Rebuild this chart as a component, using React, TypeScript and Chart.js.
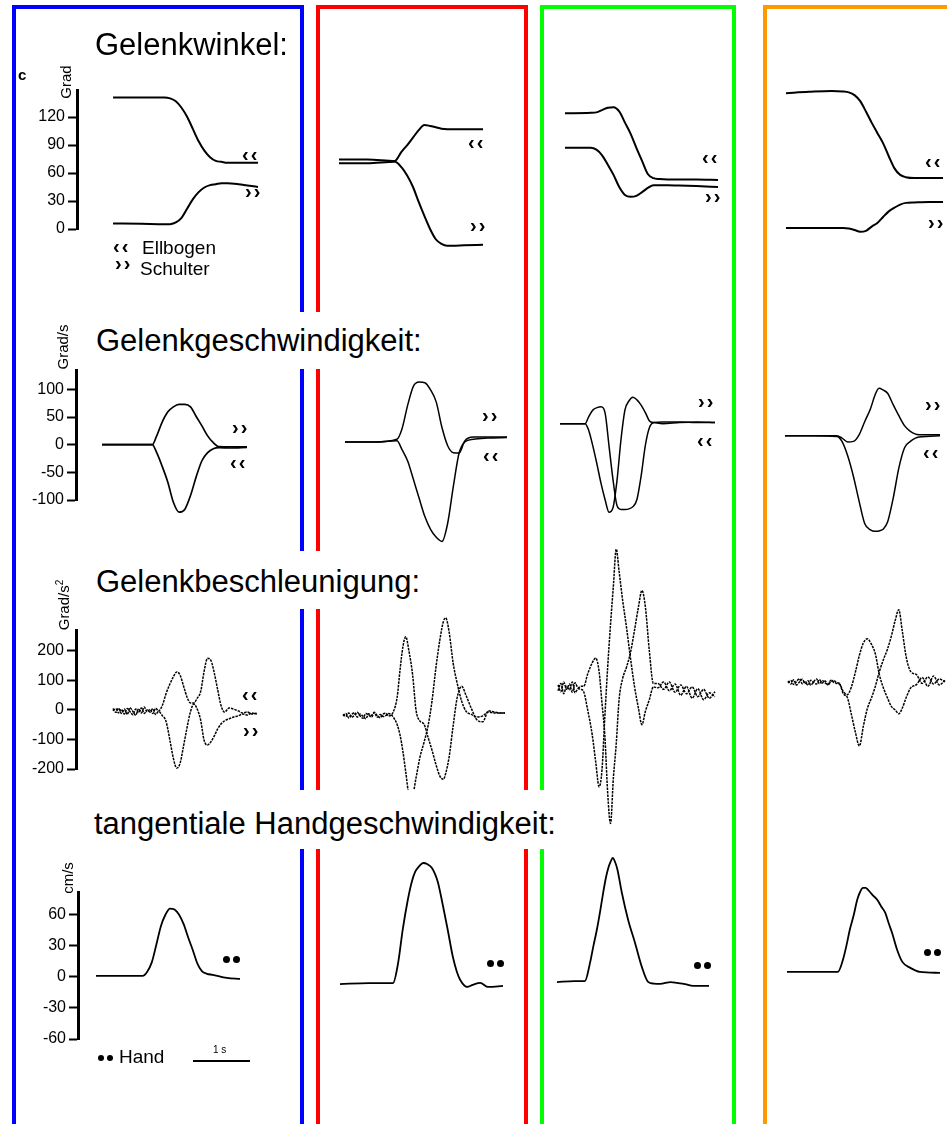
import React, { useEffect, useRef } from 'react';
import { Chart, registerables } from 'chart.js';

Chart.register(...registerables);

const FONT = '"Liberation Sans", Arial, Helvetica, sans-serif';

// ---------- tick labels ----------
const ANGLE_TICKS = [0, 30, 60, 90, 120];
const VEL_TICKS = [-100, -50, 0, 50, 100];
const ACC_TICKS = [-200, -100, 0, 100, 200];
const HAND_TICKS = [-60, -30, 0, 30, 60];

// ---------- row 1: Gelenkwinkel (Grad), time in s ----------
const R1C1_T = [0, 0.5, 0.9, 1.0, 1.1, 1.2, 1.3, 1.4, 1.5, 1.6, 1.7, 1.8, 1.9, 2.0, 2.2, 2.54];
const R1C1_ELBOW = [141, 141, 141, 140, 137, 130, 120, 107, 94, 84, 77, 73, 72, 71, 71, 71];
const R1C1_SHOULDER = [6, 5.5, 5, 5.2, 7, 12, 22, 32, 39.5, 44.5, 47, 48, 49, 49, 48, 45];

const R1C2_T = [0, 0.5, 0.98, 1.1, 1.2, 1.3, 1.4, 1.5, 1.6, 1.7, 1.8, 1.9, 2.0, 2.2, 2.53];
const R1C2_ELBOW = [74.5, 74.5, 73, 83, 90, 98, 106, 111.5, 110.5, 109, 107.5, 107, 107, 107, 107];
const R1C2_SHOULDER = [70.5, 70.5, 72, 66, 57, 45, 29, 14, 0, -11, -16, -18, -18, -17.5, -17];

const R1C3_T = [0, 0.45, 0.55, 0.65, 0.75, 0.85, 0.95, 1.05, 1.15, 1.25, 1.35, 1.45, 1.55, 1.65, 1.8, 2.0, 2.3, 2.68];
const R1C3_ELBOW = [124, 124.5, 125, 127.5, 130, 130.5, 126, 114, 102, 87, 73, 59, 54.5, 53.5, 53, 53, 53, 52.5];
const R1C3_SHOULDER = [87, 87, 85, 79, 69, 58, 45, 36.5, 34.5, 35.5, 39.5, 44, 47, 47, 47, 46.5, 46, 45];

const R1C4_T = [0, 0.4, 0.8, 1.0, 1.1, 1.2, 1.3, 1.4, 1.5, 1.6, 1.7, 1.8, 1.9, 2.0, 2.1, 2.25, 2.5, 2.75];
const R1C4_ELBOW = [145.5, 147, 148, 147.5, 146.5, 143.5, 137, 126, 114, 103, 92, 78, 65, 58, 55.5, 54.6, 54.6, 54.6];
const R1C4_SHOULDER = [1, 1, 1, 1, 0.5, -1, -3, -2, 2.6, 6.4, 12.9, 18.9, 22.9, 26.2, 28, 28.5, 29, 29];

// ---------- row 2: Gelenkgeschwindigkeit (Grad/s) ----------
const R2C1_T = [0, 0.5, 0.88, 0.95, 1.05, 1.15, 1.25, 1.35, 1.45, 1.55, 1.65, 1.75, 1.85, 1.95, 2.05, 2.25, 2.54];
const R2C1_SHOULDER = [0, 0, 0, 14, 40, 59, 68.5, 73, 73, 68.5, 51, 34, 16, 3.6, -3.6, -4, -4];
const R2C1_ELBOW = [0, 0, 0, -12.6, -38, -67, -104, -122, -117, -92, -58, -29, -14.4, -7.2, -5.4, -6, -5];

const R2C2_T = [0, 0.5, 0.91, 1.0, 1.1, 1.2, 1.3, 1.4, 1.5, 1.6, 1.7, 1.8, 1.9, 2.0, 2.1, 2.25, 2.5, 2.84];
const R2C2_SHOULDER = [5, 5, 10, 29, 72, 106, 113.5, 112, 99, 77, 31, -1.8, -14.4, -15, 7, 14, 14, 14];
const R2C2_ELBOW = [5, 5, 7, -9, -30, -63, -97, -130, -153, -167.5, -175, -142, -75, -15, 5, 10, 12, 13];

const R2C3_T = [0, 0.44, 0.5, 0.58, 0.65, 0.72, 0.79, 0.86, 0.93, 1.0, 1.07, 1.14, 1.21, 1.28, 1.35, 1.42, 1.5, 1.57, 1.65, 1.8, 2.1, 2.4, 2.72];
const R2C3_SHOULDER = [38, 38, 50, 63, 67, 68.5, 58, -2, -63, -110, -117, -117, -116, -112, -99, -59, 0, 31, 40, 41, 41, 40, 40];
const R2C3_ELBOW = [38, 38, 27, -4, -36, -70, -99, -122, -114, -65, 9, 63, 79, 85.6, 81, 72, 57.7, 43, 40, 38, 40, 41, 40];

const R2C4_T = [0, 0.5, 0.91, 1.0, 1.1, 1.2, 1.3, 1.4, 1.5, 1.58, 1.65, 1.72, 1.8, 1.9, 2.0, 2.1, 2.2, 2.35, 2.72];
const R2C4_SHOULDER = [16, 16, 16, 12, 5, 6, 18, 42, 65, 90, 102, 99, 93, 72, 52, 34, 24, 18, 18];
const R2C4_ELBOW = [16, 16, 15, 6, -20, -57, -102, -143, -154, -156.5, -156, -153, -140, -96, -41, -5, 6, 14, 16];

// ---------- row 3: Gelenkbeschleunigung (Grad/s^2) ----------
const R3C1_T = [0, 0.05, 0.1, 0.15, 0.2, 0.25, 0.3, 0.35, 0.4, 0.45, 0.5, 0.55, 0.6, 0.65, 0.7, 0.75, 0.8,
  0.87, 0.93, 1.0, 1.06, 1.12, 1.18, 1.24, 1.3, 1.36, 1.42, 1.48, 1.54, 1.6, 1.66, 1.72, 1.78, 1.84, 1.9, 1.96, 2.04, 2.12, 2.2, 2.28, 2.36, 2.44, 2.53];
const R3C1_ELBOW = [5, -8, 6, -12, 3, -15, 8, -5, -18, 4, -10, 10, -6, 2, -12, 6, -3,
  17, 54, 88, 112, 129, 118, 81, 44, 24, 24, 40, 62, 130, 175, 168, 125, 68, 14, -7, 7, 3, -3, -10, -7, -14, -10];
const R3C1_SHOULDER = [-3, 4, -10, 2, -14, 5, -6, -16, 3, -9, 7, -12, 0, -7, 4, -15, -5,
  -20, -37, -102, -163, -197, -180, -122, -61, -7, 20, 3, -34, -102, -119, -108, -88, -64, -47, -37, -30, -24, -20, -14, -17, -10, -14];

const R3C2_T = [0, 0.05, 0.1, 0.15, 0.2, 0.25, 0.3, 0.35, 0.4, 0.45, 0.5, 0.55, 0.6, 0.65, 0.7, 0.75, 0.8,
  0.88, 0.95, 1.0, 1.05, 1.1, 1.16, 1.22, 1.28, 1.35, 1.42, 1.49, 1.56, 1.63, 1.7, 1.76, 1.8, 1.86, 1.93, 2.0, 2.08, 2.16, 2.25, 2.35, 2.45, 2.55, 2.65, 2.75, 2.84];
const R3C2_ELBOW = [-15, -22, -10, -25, -18, -8, -20, -28, -12, -17, -24, -9, -19, -26, -14, -11, -20,
  -7, 44, 136, 214, 248, 195, 120, 0, -38, -48, -92, -136, -185, -225, -235, -215, -160, -55, 40, 80, 48, 5, -34, -40, -3, -7, -10, -10];
const R3C2_SHOULDER = [-20, -12, -27, -16, -9, -24, -14, -21, -30, -13, -18, -8, -25, -15, -22, -19, -12,
  -24, -50, -85, -140, -210, -285, -285, -230, -159, -110, -55, 30, 145, 240, 300, 312, 265, 160, 92, 30, -5, -15, -24, -20, -7, -10, -10, -10];

const R3C3_T = [0, 0.05, 0.1, 0.15, 0.2, 0.25, 0.3, 0.35, 0.4,
  0.45, 0.52, 0.6, 0.66, 0.72, 0.77, 0.82, 0.87, 0.92, 0.97, 1.02, 1.07, 1.13, 1.2, 1.27, 1.34, 1.41, 1.47, 1.53, 1.6, 1.67,
  1.75, 1.85, 1.95, 2.05, 2.15, 2.25, 2.35, 2.45, 2.55, 2.65, 2.75];
const R3C3_SHOULDER = [85, 62, 95, 70, 88, 60, 92, 75, 80,
  80, 122, 160, 176, 130, 24, -85, -280, -385, -230, -115, 35, 105, 145, 195, 270, 350, 405, 350, 200, 90,
  90, 70, 95, 60, 85, 55, 78, 45, 70, 40, 62];
const R3C3_ELBOW = [65, 90, 55, 80, 68, 95, 58, 72, 70,
  62, 0, -85, -175, -260, -205, -24, 145, 290, 420, 545, 470, 375, 280, 175, 80, 5, -50, -5, 35, 78,
  75, 95, 65, 88, 50, 80, 40, 72, 35, 58, 45];

const R3C4_T = [0, 0.05, 0.1, 0.15, 0.2, 0.25, 0.3, 0.35, 0.4, 0.45, 0.5, 0.55, 0.6, 0.65, 0.7, 0.75, 0.8, 0.85,
  0.9, 0.97, 1.04, 1.11, 1.18, 1.25, 1.32, 1.39, 1.46, 1.53, 1.6, 1.67, 1.74, 1.81, 1.88, 1.94, 2.0, 2.07, 2.15, 2.25, 2.35, 2.45, 2.55, 2.65, 2.75];
const R3C4_ELBOW = [98, 88, 102, 85, 95, 104, 90, 99, 84, 96, 105, 89, 100, 92, 86, 101, 94, 90,
  88, 62, 52, 78, 128, 185, 227, 241, 223, 190, 120, 75, 42, 12, 0, -13, 5, 42, 75, 86, 110, 80, 115, 85, 100];
const R3C4_SHOULDER = [92, 100, 86, 97, 106, 89, 95, 84, 101, 93, 88, 103, 91, 98, 85, 96, 100, 93,
  90, 55, 42, -15, -75, -122, -55, 5, 40, 80, 130, 170, 205, 250, 305, 340, 270, 180, 130, 120, 90, 112, 88, 105, 95];

// ---------- row 4: tangentiale Handgeschwindigkeit (cm/s) ----------
const R4C1_T = [0, 0.4, 0.82, 0.9, 0.98, 1.06, 1.14, 1.22, 1.3, 1.38, 1.46, 1.54, 1.62, 1.7, 1.78, 1.86, 1.95, 2.05, 2.3, 2.53];
const R4C1_HAND = [1, 1, 1, 5, 14, 31, 49, 60, 66, 65, 60, 51, 38, 26, 13, 5.5, 3, 2, -1, -2];

const R4C2_T = [0, 0.5, 0.93, 1.02, 1.1, 1.19, 1.26, 1.32, 1.39, 1.46, 1.53, 1.61, 1.67, 1.72, 1.81, 1.89, 1.98, 2.05, 2.11, 2.23, 2.33, 2.46, 2.6, 2.86];
const R4C2_HAND = [-7, -6, -6, 13.5, 45.5, 74.5, 92, 101.6, 107, 110, 109, 105.5, 99, 91, 67.7, 45.5, 19.4, 5, -3, -9.7, -7.7, -5.8, -9.7, -8.7];

const R4C3_T = [0, 0.3, 0.49, 0.58, 0.64, 0.7, 0.76, 0.81, 0.86, 0.9, 0.94, 0.98, 1.02, 1.06, 1.14, 1.25, 1.37, 1.49, 1.6, 1.7, 1.81, 2.0, 2.11, 2.25, 2.39, 2.67];
const R4C3_HAND = [-5, -4, -4, 13.5, 30, 45.5, 64, 81, 96, 105, 111, 115, 111, 104, 81, 55, 33, 9.7, -4.8, -6.5, -6.8, -5, -5.8, -7, -8.7, -8.7];

const R4C4_T = [0, 0.5, 0.89, 0.98, 1.04, 1.1, 1.17, 1.23, 1.28, 1.33, 1.38, 1.42, 1.5, 1.58, 1.65, 1.72, 1.78, 1.84, 1.93, 2.02, 2.16, 2.33, 2.68];
const R4C4_HAND = [4.8, 4.8, 4.8, 16.5, 30, 45.5, 60, 74.5, 82, 86, 86, 84, 79, 74.5, 68, 62, 52, 42.6, 26, 14.5, 8.7, 4.8, 3.9];

// ---------- layout ----------
const PX_PER_S = 57;
const PAD = 110;
const AXW = 64;

type Geo = { top: number; bottom: number; min: number; max: number; ticks: number[] };
const ROW1: Geo = { top: 90, bottom: 229, min: 0, max: 149, ticks: ANGLE_TICKS };
const ROW2: Geo = { top: 359, bottom: 500, min: -100, max: 155, ticks: VEL_TICKS };
const ROW3: Geo = { top: 630, bottom: 769, min: -200, max: 271, ticks: ACC_TICKS };
const ROW4: Geo = { top: 892, bottom: 1039, min: -60, max: 82, ticks: HAND_TICKS };

type PanelProps = { geo: Geo; x0: number; axisX?: number; t: number[]; series: number[][]; width: number; dash?: number[] };

const PANELS: PanelProps[] = [
  { geo: ROW1, x0: 113, axisX: 77, t: R1C1_T, series: [R1C1_ELBOW, R1C1_SHOULDER], width: 2 },
  { geo: ROW1, x0: 339, t: R1C2_T, series: [R1C2_ELBOW, R1C2_SHOULDER], width: 2 },
  { geo: ROW1, x0: 565, t: R1C3_T, series: [R1C3_ELBOW, R1C3_SHOULDER], width: 2 },
  { geo: ROW1, x0: 786, t: R1C4_T, series: [R1C4_ELBOW, R1C4_SHOULDER], width: 2 },
  { geo: ROW2, x0: 102, axisX: 76, t: R2C1_T, series: [R2C1_ELBOW, R2C1_SHOULDER], width: 1.7 },
  { geo: ROW2, x0: 345, t: R2C2_T, series: [R2C2_ELBOW, R2C2_SHOULDER], width: 1.5 },
  { geo: ROW2, x0: 560, t: R2C3_T, series: [R2C3_ELBOW, R2C3_SHOULDER], width: 1.5 },
  { geo: ROW2, x0: 785, t: R2C4_T, series: [R2C4_ELBOW, R2C4_SHOULDER], width: 1.5 },
  { geo: ROW3, x0: 113, axisX: 76, t: R3C1_T, series: [R3C1_ELBOW, R3C1_SHOULDER], width: 1.5, dash: [2.5, 1] },
  { geo: ROW3, x0: 343, t: R3C2_T, series: [R3C2_ELBOW, R3C2_SHOULDER], width: 1.5, dash: [2.5, 1] },
  { geo: ROW3, x0: 558, t: R3C3_T, series: [R3C3_ELBOW, R3C3_SHOULDER], width: 1.5, dash: [2.5, 1] },
  { geo: ROW3, x0: 788, t: R3C4_T, series: [R3C4_ELBOW, R3C4_SHOULDER], width: 1.5, dash: [2.5, 1] },
  { geo: ROW4, x0: 96, axisX: 78, t: R4C1_T, series: [R4C1_HAND], width: 1.8 },
  { geo: ROW4, x0: 340, t: R4C2_T, series: [R4C2_HAND], width: 1.8 },
  { geo: ROW4, x0: 557, t: R4C3_T, series: [R4C3_HAND], width: 1.8 },
  { geo: ROW4, x0: 787, t: R4C4_T, series: [R4C4_HAND], width: 1.8 },
];

function Panel({ geo, x0, axisX, t, series, width, dash }: PanelProps) {
  const ref = useRef<HTMLCanvasElement>(null);
  const hasAxis = axisX !== undefined;
  const tEnd = t[t.length - 1];
  const areaLeft = hasAxis ? (axisX as number) : x0;
  const areaRight = x0 + tEnd * PX_PER_S;
  const padL = hasAxis ? AXW : 6;
  const padR = 6;
  const cw = Math.round(padL + (areaRight - areaLeft) + padR);
  const ch = PAD * 2 + (geo.bottom - geo.top);
  const xMin = (areaLeft - x0) / PX_PER_S;

  useEffect(() => {
    const yOpts: any = {
      type: 'linear',
      display: hasAxis,
      min: geo.min,
      max: geo.max,
    };
    if (hasAxis) {
      Object.assign(yOpts, {
        afterFit: (s: any) => { s.width = AXW; },
        afterBuildTicks: (s: any) => { s.ticks = geo.ticks.map((v) => ({ value: v })); },
        border: { display: true, color: '#000', width: 3 },
        grid: { display: true, drawOnChartArea: false, drawTicks: true, tickLength: 9, tickWidth: 2, tickColor: '#000', color: '#000' },
        ticks: { color: '#000', padding: 3, autoSkip: false, font: { family: FONT, size: 16 }, callback: (v: any) => String(v) },
      });
    }
    const chart = new Chart(ref.current as HTMLCanvasElement, {
      type: 'line',
      data: {
        datasets: series.map((s) => ({
          data: t.map((x, i) => ({ x, y: s[i] })),
          borderColor: '#000',
          borderWidth: width,
          borderDash: dash || [],
          pointRadius: 0,
          cubicInterpolationMode: 'monotone' as const,
          fill: false,
          clip: false as any,
        })),
      },
      options: {
        animation: false,
        responsive: false,
        devicePixelRatio: 1,
        events: [],
        layout: { padding: { left: hasAxis ? 0 : padL, right: padR, top: PAD, bottom: PAD } },
        plugins: { legend: { display: false }, tooltip: { enabled: false } },
        scales: {
          x: { type: 'linear', display: false, min: xMin, max: tEnd },
          y: yOpts,
        },
      },
    });
    return () => chart.destroy();
  }, []);

  return (
    <canvas
      ref={ref}
      width={cw}
      height={ch}
      style={{ position: 'absolute', left: areaLeft - padL, top: geo.top - PAD, width: cw, height: ch }}
    />
  );
}

function Txt({ x, y, size, children, bold, ls }: { x: number; y: number; size: number; children: any; bold?: boolean; ls?: number }) {
  return (
    <div style={{ position: 'absolute', left: x, top: y - 0.8465 * size, fontSize: size, lineHeight: 1, whiteSpace: 'nowrap', fontWeight: bold ? 'bold' : 'normal', letterSpacing: ls || 0 }}>
      {children}
    </div>
  );
}

function RotLabel({ cx, cy, size, children }: { cx: number; cy: number; size: number; children: any }) {
  return (
    <div style={{ position: 'absolute', left: cx, top: cy, transform: 'translate(-50%,-50%) rotate(-90deg)', fontSize: size, lineHeight: 1, whiteSpace: 'nowrap' }}>
      {children}
    </div>
  );
}

function Dots({ cx, cy, d, gap }: { cx: number; cy: number; d: number; gap: number }) {
  const w = d * 2 + gap;
  return (
    <div style={{ position: 'absolute', left: cx - w / 2, top: cy - d / 2, width: w, height: d, display: 'flex', gap }}>
      <span style={{ width: d, height: d, borderRadius: '50%', background: '#000', display: 'block' }} />
      <span style={{ width: d, height: d, borderRadius: '50%', background: '#000', display: 'block' }} />
    </div>
  );
}

const BOXES = [
  { color: '#0000ff', left: 12, width: 292 },
  { color: '#ff0000', left: 316, width: 212 },
  { color: '#00ff00', left: 540, width: 196 },
  { color: '#ff9900', left: 763, width: 300 },
];

const ELBOW_MARK = '\u2039\u2039';
const SHOULDER_MARK = '\u203A\u203A';

// chevron labels: left x, vertical centre
const MARKS = [
  { x: 242, y: 155, s: ELBOW_MARK }, { x: 245, y: 192, s: SHOULDER_MARK },
  { x: 468, y: 143, s: ELBOW_MARK }, { x: 470, y: 226, s: SHOULDER_MARK },
  { x: 702, y: 158, s: ELBOW_MARK }, { x: 705, y: 197, s: SHOULDER_MARK },
  { x: 925, y: 162, s: ELBOW_MARK }, { x: 928, y: 223, s: SHOULDER_MARK },
  { x: 232, y: 428, s: SHOULDER_MARK }, { x: 230, y: 463, s: ELBOW_MARK },
  { x: 482, y: 416, s: SHOULDER_MARK }, { x: 483, y: 456, s: ELBOW_MARK },
  { x: 698, y: 402, s: SHOULDER_MARK }, { x: 697, y: 441, s: ELBOW_MARK },
  { x: 925, y: 405, s: SHOULDER_MARK }, { x: 923, y: 453, s: ELBOW_MARK },
  { x: 242, y: 695, s: ELBOW_MARK }, { x: 243, y: 731, s: SHOULDER_MARK },
  { x: 113, y: 247, s: ELBOW_MARK }, { x: 115, y: 264, s: SHOULDER_MARK },
];

const HAND_DOTS = [
  { cx: 231, cy: 959 }, { cx: 495, cy: 963 }, { cx: 702, cy: 965 }, { cx: 932, cy: 952 },
];

const TITLE_BOXES = [
  { left: 72, top: 312, width: 384, height: 57 },
  { left: 72, top: 551, width: 384, height: 58 },
  { left: 72, top: 790, width: 518, height: 59 },
];

export default function App() {
  return (
    <div style={{ position: 'fixed', left: 0, top: 0, width: 947, height: 1124, overflow: 'hidden', background: '#fff', fontFamily: FONT, color: '#000' }}>
      {BOXES.map((b) => (
        <div key={b.color} style={{ position: 'absolute', left: b.left, top: 5, width: b.width, height: 1200, border: `4px solid ${b.color}`, boxSizing: 'border-box' }} />
      ))}

      {PANELS.map((p, i) => <Panel key={i} {...p} />)}

      {TITLE_BOXES.map((b, i) => (
        <div key={i} style={{ position: 'absolute', left: b.left, top: b.top, width: b.width, height: b.height, background: '#fff' }} />
      ))}

      <Txt x={95} y={55} size={31}>Gelenkwinkel:</Txt>
      <Txt x={96} y={351} size={31}>Gelenkgeschwindigkeit:</Txt>
      <Txt x={96} y={592} size={31}>Gelenkbeschleunigung:</Txt>
      <Txt x={94} y={834} size={31}>tangentiale Handgeschwindigkeit:</Txt>

      <Txt x={18} y={80} size={15} bold>c</Txt>
      <RotLabel cx={65} cy={82} size={15}>Grad</RotLabel>
      <RotLabel cx={62} cy={347} size={15}>Grad/s</RotLabel>
      <RotLabel cx={63} cy={605} size={15}>
        Grad/s<span style={{ fontSize: 10, position: 'relative', top: -6 }}>2</span>
      </RotLabel>
      <RotLabel cx={67} cy={878} size={15}>cm/s</RotLabel>

      {MARKS.map((m, i) => (
        <Txt key={i} x={m.x} y={m.y + 6} size={20} bold ls={2}>{m.s}</Txt>
      ))}

      <Txt x={142} y={254} size={19}>Ellbogen</Txt>
      <Txt x={140} y={275} size={19}>Schulter</Txt>

      {HAND_DOTS.map((d, i) => <Dots key={i} cx={d.cx} cy={d.cy} d={7} gap={3} />)}

      <Dots cx={105} cy={1058} d={6} gap={3} />
      <Txt x={119} y={1063} size={19}>Hand</Txt>
      <div style={{ position: 'absolute', left: 193, top: 1060, width: 57, height: 2, background: '#000' }} />
      <Txt x={213} y={1053} size={10}>1 s</Txt>
    </div>
  );
}
